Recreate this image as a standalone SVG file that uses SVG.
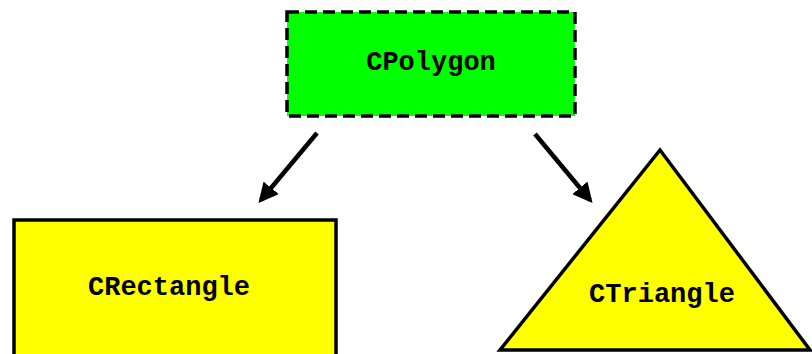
<svg xmlns="http://www.w3.org/2000/svg" width="812" height="354" viewBox="0 0 812 354">
<style>
.lbl{font-family:"Liberation Mono","Courier New",monospace;font-weight:bold;font-size:27px;fill:#000;text-anchor:middle;dominant-baseline:central}
.box{stroke:#000;stroke-width:3.5}
.edge{stroke:#000;stroke-width:4.5;fill:none;marker-end:url(#arr)}
</style>
<defs>
<marker id="arr" viewBox="0 0 10 10" refX="8" refY="5" markerWidth="4.4" markerHeight="4.4" orient="auto" markerUnits="strokeWidth">
<path d="M0,0 L10,5 L0,10 z" fill="#000"/>
</marker>
</defs>
<g id="CPolygon">
<rect class="box" x="287" y="12" width="288" height="104" fill="#00ff00" stroke-dasharray="12,6"/>
<text class="lbl" x="431" y="63">CPolygon</text>
</g>
<g id="CRectangle">
<rect class="box" x="14" y="220" width="322" height="140" fill="#ffff00"/>
<text class="lbl" x="169" y="288">CRectangle</text>
</g>
<g id="CTriangle">
<polygon class="box" points="660,150 500,350 810,350" fill="#ffff00" stroke-linejoin="miter"/>
<text class="lbl" x="662" y="295">CTriangle</text>
</g>
<g id="connectors">
<line class="edge" x1="317" y1="133" x2="261" y2="200"/>
<line class="edge" x1="535" y1="134" x2="590" y2="200"/>
</g>
</svg>
